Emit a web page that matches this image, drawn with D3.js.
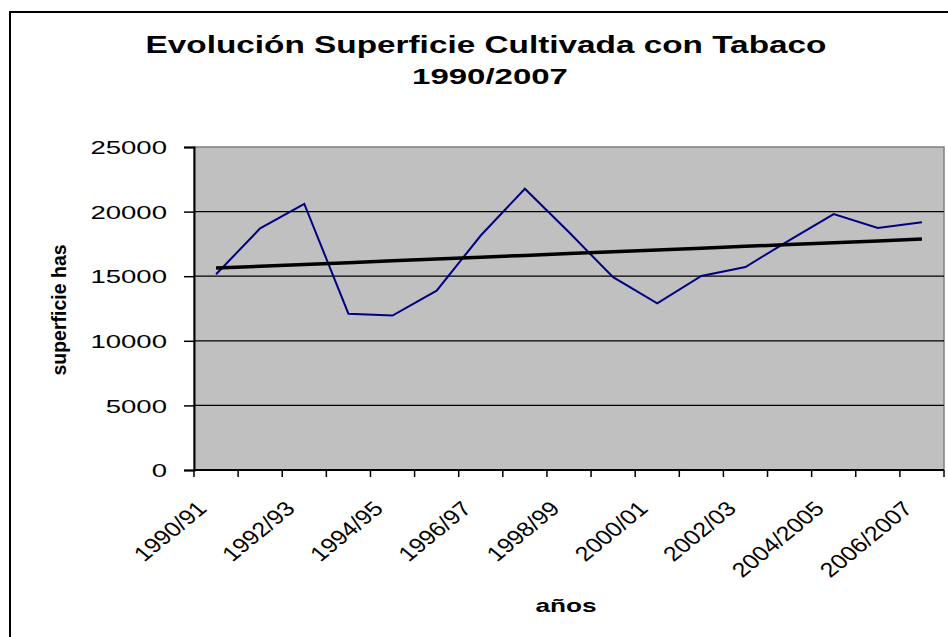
<!DOCTYPE html>
<meta charset="utf-8">
<script src="https://d3js.org/d3.v7.min.js"></script>
<style>
  body { margin: 0; background: #fff; }
  text { font-family: Arial, "Liberation Sans", sans-serif; fill: #000; }
</style>
<div id="chart"></div>
<script>

// campañas (categorias del eje x)
var seasons = ["1990/91","1991/92","1992/93","1993/94","1994/95","1995/96","1996/97","1997/98",
  "1998/99","1999/00","2000/01","2001/02","2002/03","2003/04","2004/2005","2005/2006","2006/2007"]

// superficie cultivada (has)
var surface = [15150, 18700, 20600, 12100, 11950, 13880, 18150, 21770,
  18400, 14920, 12900, 15020, 15710, 17800, 19810, 18730, 19170]

var yTicks = [0, 5000, 10000, 15000, 20000, 25000]

// solo se rotulan las campañas pares
var xLabels = ["1990/91","1992/93","1994/95","1996/97","1998/99","2000/01","2002/03","2004/2005","2006/2007"]

var width = 948
var height = 637
var plot = {left: 194, top: 147, right: 944, bottom: 470}
var stretch = 1.45   // el original tiene el texto ensanchado

var svg = d3.select("#chart").append("svg").attr("width", width).attr("height", height)

// marco exterior
svg.append("rect").attr("x", 10).attr("y", 12).attr("width", 960).attr("height", 660)
  .attr("fill", "#fff").attr("stroke", "#000").attr("stroke-width", 2)

function hText(str, x, y, size, bold, sx) {
  return svg.append("text").text(str)
    .attr("transform", "translate(" + x + "," + y + ") scale(" + sx + ",1)")
    .attr("text-anchor", "middle")
    .style("font-size", size + "px")
    .style("font-weight", bold ? "bold" : "normal")
}

hText("Evolución Superficie Cultivada con Tabaco", 486, 53, 23, true, stretch)
hText("1990/2007", 490, 84, 22, true, 1.5)
hText("años", 566, 612, 19, true, 1.38)

svg.append("text").text("superficie has")
  .attr("transform", "translate(66,310) rotate(-90)")
  .attr("text-anchor", "middle")
  .style("font-size", "19.5px").style("font-weight", "bold")

var x = d3.scaleBand().domain(seasons).range([plot.left, plot.right])
var y = d3.scaleLinear().domain([0, 25000]).range([plot.bottom, plot.top])

// fondo del area de trazado
svg.append("rect")
  .attr("x", plot.left).attr("y", plot.top)
  .attr("width", plot.right - plot.left).attr("height", plot.bottom - plot.top)
  .attr("fill", "#c0c0c0").attr("stroke", "#808080").attr("stroke-width", 1.5)

// lineas de division
svg.append("g").selectAll("line")
  .data(yTicks.filter(d => d > 0 && d < 25000))
  .join("line")
  .attr("x1", plot.left).attr("x2", plot.right)
  .attr("y1", d => y(d)).attr("y2", d => y(d))
  .attr("stroke", "#000").attr("stroke-width", 1.3)

// eje y
var yAxis = svg.append("g").attr("transform", "translate(" + plot.left + ",0)")
  .call(d3.axisLeft(y).tickValues(yTicks).tickSize(10).tickFormat(d3.format("d")))
yAxis.select(".domain").attr("stroke-width", 2)
yAxis.selectAll(".tick line").attr("stroke-width", 1.5)
yAxis.selectAll("text")
  .attr("x", null).attr("dy", "0.35em")
  .attr("transform", "translate(-27,0) scale(" + stretch + ",1)")
  .style("font-size", "19px").style("font-family", "Arial, 'Liberation Sans', sans-serif")

// eje x: marcas en los limites de cada campaña
var bounds = seasons.map(d => x(d)).concat([x(seasons[seasons.length - 1]) + x.bandwidth()])
var xAxis = svg.append("g").attr("transform", "translate(0," + plot.bottom + ")")
xAxis.append("line").attr("x1", plot.left).attr("x2", plot.right)
  .attr("stroke", "#000").attr("stroke-width", 2)
xAxis.selectAll(".tk").data(bounds).join("line").attr("class", "tk")
  .attr("x1", d => d).attr("x2", d => d).attr("y1", 0).attr("y2", 7)
  .attr("stroke", "#000").attr("stroke-width", 1.5)

svg.append("g").selectAll("text")
  .data(xLabels)
  .join("text")
  .text(d => d)
  .attr("text-anchor", "end")
  .attr("transform", d => "translate(" + (x(d) + x.bandwidth() / 2 - 8) + ",510) scale(1.22,1) rotate(-45)")
  .style("font-size", "20.5px")

// serie
var line = d3.line()
  .x((d, i) => x(seasons[i]) + x.bandwidth() / 2)
  .y(d => y(d))

svg.append("path").datum(surface)
  .attr("d", line)
  .attr("fill", "none").attr("stroke", "#000080").attr("stroke-width", 2)

// linea de tendencia (regresion lineal)
var n = surface.length
var idx = d3.range(1, n + 1)
var mx = d3.mean(idx), my = d3.mean(surface)
var slope = d3.sum(idx, (t, i) => (t - mx) * (surface[i] - my)) / d3.sum(idx, t => (t - mx) * (t - mx))
var trend = idx.map(t => my + slope * (t - mx))

svg.append("path").datum(trend)
  .attr("d", line)
  .attr("fill", "none").attr("stroke", "#000").attr("stroke-width", 3.5)

</script>
